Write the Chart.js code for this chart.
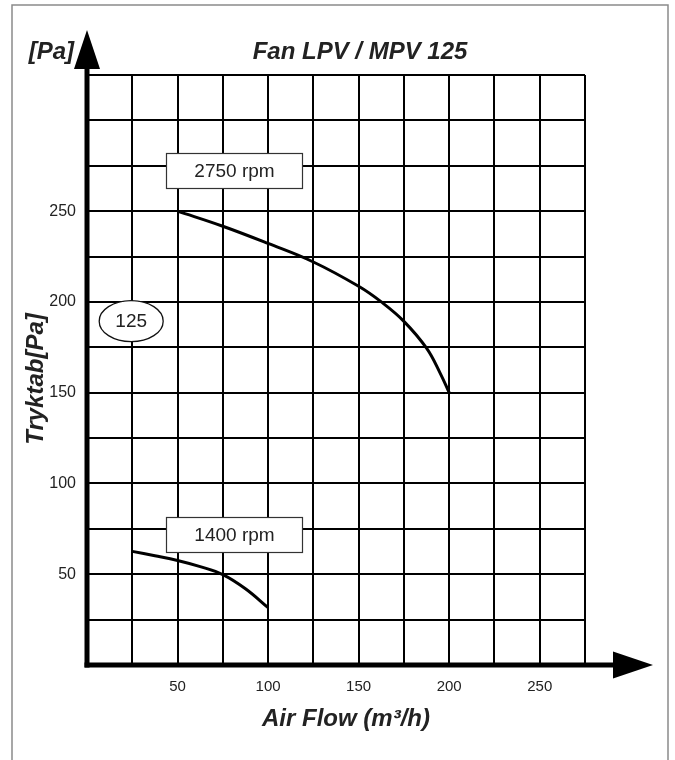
<!DOCTYPE html>
<html>
<head>
<meta charset="utf-8">
<style>
  html, body { margin: 0; padding: 0; background: #ffffff; }
  #wrap { width: 675px; height: 760px; position: relative; }
</style>
<script src="https://cdn.jsdelivr.net/npm/chart.js@4.4.1/dist/chart.umd.min.js"></script>
</head>
<body>
<div id="wrap"><canvas id="c" width="675" height="760"></canvas></div>
<script>
// ---- data ----
const chartTitle = 'Fan LPV / MPV 125';
const unitLabel = '[Pa]';
const xAxisTitle = 'Air Flow (m³/h)';
const yAxisTitle = 'Tryktab[Pa]';
const flow2750 = [50, 75, 100, 125, 150, 162.5, 175, 187.5, 195, 200];
const pressure2750 = [250, 241.7, 232.2, 222, 208.6, 200, 189.3, 174.5, 160.8, 150];
const flow1400 = [25, 37.5, 50, 62.5, 75, 87.5, 100];
const pressure1400 = [62.6, 60.2, 57.6, 54.2, 49.8, 42.0, 31.6];
const seriesLabels = ['2750 rpm', '1400 rpm'];
const sizeLabel = '125';
const xLabeledTicks = [50, 100, 150, 200, 250];
const yLabeledTicks = [50, 100, 150, 200, 250];

const FONT = '"Liberation Sans", Arial, Helvetica, sans-serif';
const TXT = '#222222';

function pts(xs, ys) { return xs.map((x, i) => ({ x: x, y: ys[i] })); }

const decor = {
  id: 'decor',
  beforeDraw(chart) {
    const ctx = chart.ctx;
    ctx.save();
    ctx.fillStyle = '#ffffff';
    ctx.fillRect(0, 0, chart.width, chart.height);
    ctx.restore();
  },
  afterDatasetsDraw(chart) {
    const ctx = chart.ctx;
    const xs = chart.scales.x, ys = chart.scales.y;
    ctx.save();
    // label boxes
    const boxes = [
      { text: seriesLabels[0], x0: 43.4, x1: 118.8, y0: 281.8, y1: 263.0 },
      { text: seriesLabels[1], x0: 43.4, x1: 118.8, y0: 81.7, y1: 62.4 }
    ];
    boxes.forEach(b => {
      const l = Math.round(xs.getPixelForValue(b.x0)) + 0.5;
      const r = Math.round(xs.getPixelForValue(b.x1)) + 0.5;
      const t = Math.round(ys.getPixelForValue(b.y0)) + 0.5;
      const bt = Math.round(ys.getPixelForValue(b.y1)) + 0.5;
      ctx.fillStyle = '#ffffff';
      ctx.fillRect(l, t, r - l, bt - t);
      ctx.strokeStyle = '#333333';
      ctx.lineWidth = 1.2;
      ctx.strokeRect(l, t, r - l, bt - t);
      ctx.fillStyle = TXT;
      ctx.font = '19px ' + FONT;
      ctx.textAlign = 'center';
      ctx.textBaseline = 'middle';
      ctx.fillText(b.text, (l + r) / 2, (t + bt) / 2 + 1);
    });
    // ellipse label
    const ex = xs.getPixelForValue(24.4), ey = ys.getPixelForValue(189.4);
    ctx.beginPath();
    ctx.ellipse(ex, ey, 32, 20.5, 0, 0, Math.PI * 2);
    ctx.fillStyle = '#ffffff';
    ctx.fill();
    ctx.strokeStyle = '#111111';
    ctx.lineWidth = 1.3;
    ctx.stroke();
    ctx.fillStyle = TXT;
    ctx.font = '19px ' + FONT;
    ctx.textAlign = 'center';
    ctx.textBaseline = 'middle';
    ctx.fillText(sizeLabel, ex, ey + 1);
    ctx.restore();
  },
  afterDraw(chart) {
    const ctx = chart.ctx;
    const a = chart.chartArea;
    ctx.save();
    // outer frame
    ctx.strokeStyle = '#8a8a8a';
    ctx.lineWidth = 1.5;
    ctx.strokeRect(12, 5, 656, 770);
    // axes
    ctx.strokeStyle = '#000000';
    ctx.fillStyle = '#000000';
    ctx.lineWidth = 5;
    ctx.beginPath();
    ctx.moveTo(a.left, a.bottom + 2.5);
    ctx.lineTo(a.left, 66);
    ctx.stroke();
    ctx.beginPath();
    ctx.moveTo(a.left - 2.5, a.bottom);
    ctx.lineTo(616, a.bottom);
    ctx.stroke();
    // arrowheads
    ctx.beginPath();
    ctx.moveTo(a.left - 13, 69);
    ctx.lineTo(a.left + 13, 69);
    ctx.lineTo(a.left, 30);
    ctx.closePath();
    ctx.fill();
    ctx.beginPath();
    ctx.moveTo(613, a.bottom - 13.5);
    ctx.lineTo(613, a.bottom + 13.5);
    ctx.lineTo(653, a.bottom);
    ctx.closePath();
    ctx.fill();
    // titles
    ctx.fillStyle = TXT;
    ctx.font = 'italic bold 24px ' + FONT;
    ctx.textBaseline = 'middle';
    ctx.textAlign = 'center';
    ctx.fillText(chartTitle, 360, 52);
    ctx.textAlign = 'right';
    ctx.fillText(unitLabel, 74, 52);
    ctx.textAlign = 'center';
    ctx.fillText(xAxisTitle, 346, 719);
    ctx.save();
    ctx.translate(36, 379);
    ctx.rotate(-Math.PI / 2);
    ctx.fillText(yAxisTitle, 0, 0);
    ctx.restore();
    ctx.restore();
  }
};

new Chart(document.getElementById('c'), {
  type: 'scatter',
  data: {
    datasets: [
      {
        label: seriesLabels[0],
        data: pts(flow2750, pressure2750),
        showLine: true,
        borderColor: '#000000',
        borderWidth: 3,
        pointRadius: 0,
        tension: 0.4,
        fill: false
      },
      {
        label: seriesLabels[1],
        data: pts(flow1400, pressure1400),
        showLine: true,
        borderColor: '#000000',
        borderWidth: 3,
        pointRadius: 0,
        tension: 0.4,
        fill: false
      }
    ]
  },
  options: {
    responsive: false,
    animation: false,
    devicePixelRatio: 1,
    layout: { padding: { left: 0, top: 75, right: 90, bottom: 0 } },
    plugins: { legend: { display: false }, tooltip: { enabled: false }, title: { display: false } },
    scales: {
      x: {
        type: 'linear',
        min: 0, max: 275,
        afterFit(s) { s.height = 95; },
        border: { display: false },
        grid: { color: '#000000', lineWidth: 2, drawTicks: false },
        ticks: {
          stepSize: 25,
          padding: 13,
          color: TXT,
          font: { family: FONT, size: 15 },
          maxRotation: 0,
          autoSkip: false,
          callback: v => xLabeledTicks.includes(v) ? String(v) : ''
        }
      },
      y: {
        type: 'linear',
        min: 0, max: 325,
        afterFit(s) { s.width = 87; },
        border: { display: false },
        grid: { color: '#000000', lineWidth: 2, drawTicks: false },
        ticks: {
          stepSize: 25,
          padding: 11,
          color: TXT,
          font: { family: FONT, size: 16 },
          autoSkip: false,
          callback: v => yLabeledTicks.includes(v) ? String(v) : ''
        }
      }
    }
  },
  plugins: [decor]
});
</script>
</body>
</html>
